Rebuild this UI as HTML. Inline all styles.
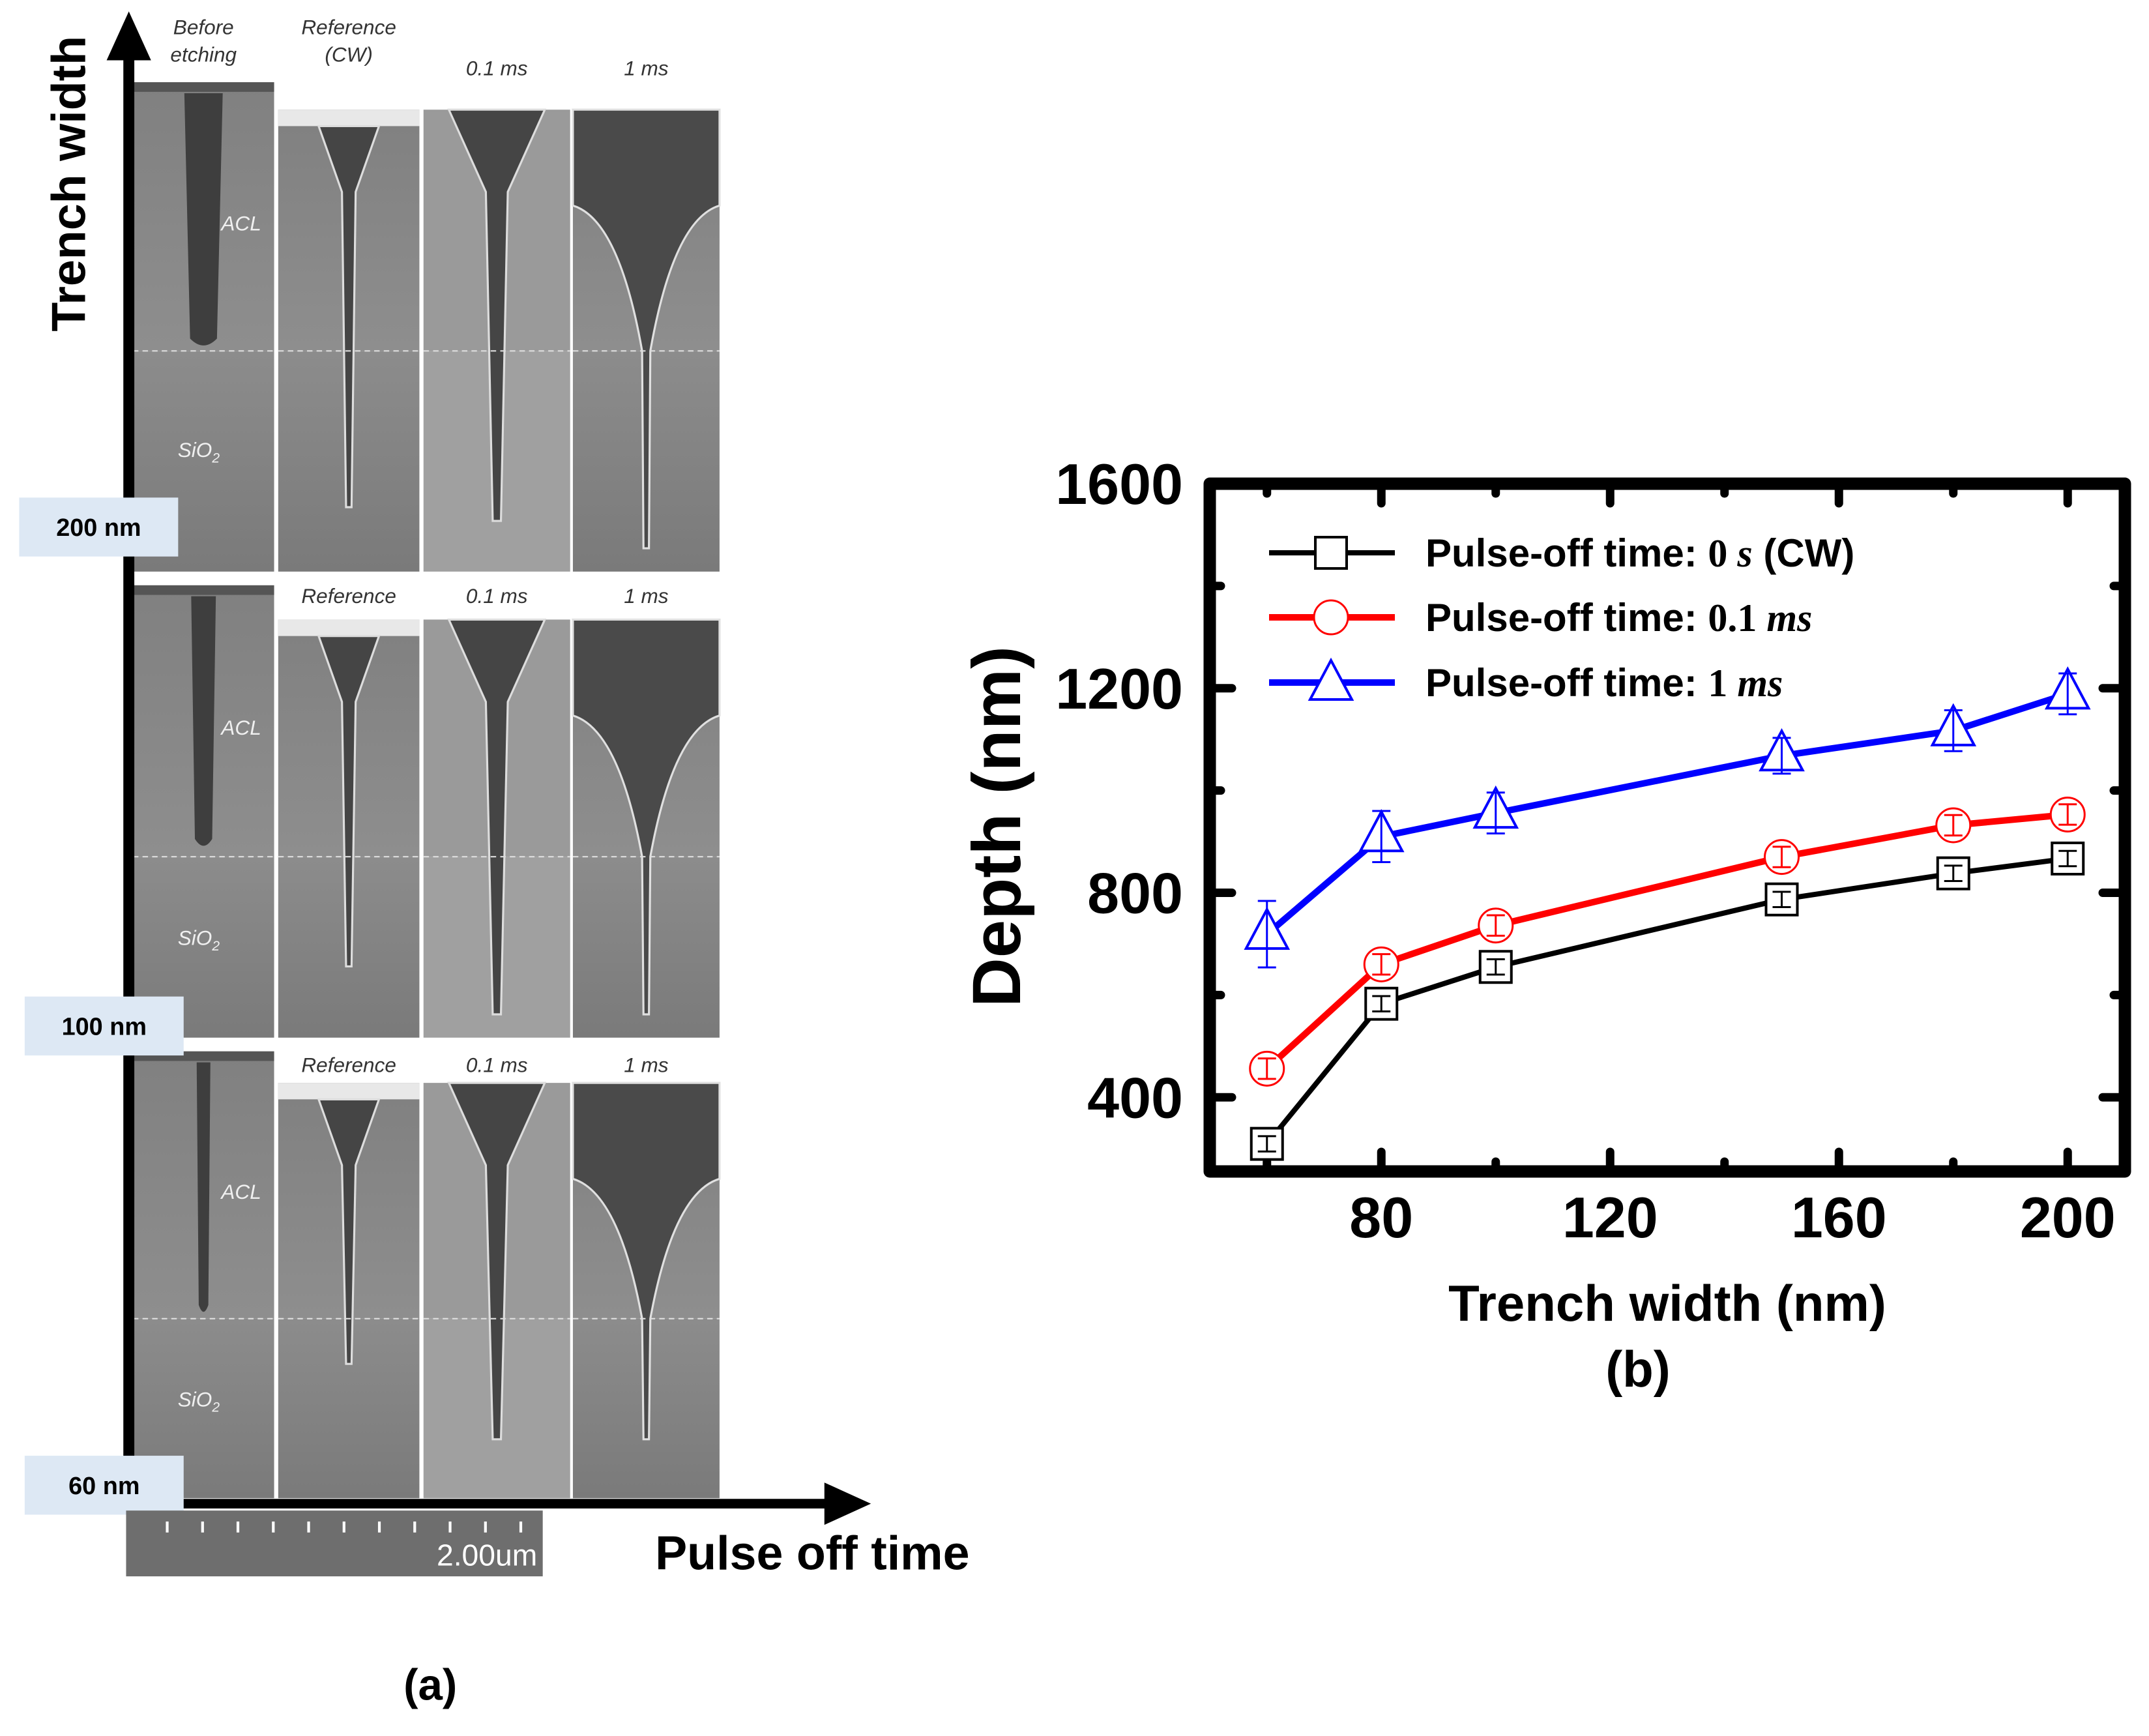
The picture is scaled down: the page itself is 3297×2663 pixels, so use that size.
<!DOCTYPE html>
<html><head><meta charset="utf-8"><style>
html,body{margin:0;padding:0;background:#fff;}
svg{display:block;}
text{font-family:"Liberation Sans",sans-serif;}
</style></head><body>
<svg id="root" width="3297" height="2663" viewBox="0 0 3297 2663" xmlns="http://www.w3.org/2000/svg">
<defs>
<linearGradient id="gOx" x1="0" y1="0" x2="0" y2="1"><stop offset="0" stop-color="#8c8c8c"/><stop offset="1" stop-color="#7a7a7a"/></linearGradient>
<linearGradient id="gAcl" x1="0" y1="0" x2="0" y2="1"><stop offset="0" stop-color="#808080"/><stop offset="1" stop-color="#8e8e8e"/></linearGradient>
</defs>
<g id="panelA" transform="scale(2.1027)"></g>
<g id="chart"></g>
</svg>
<script>
// ---------- Chart data ----------
const widths = [60, 80, 100, 150, 180, 200];
const depthCW = [309, 583, 655, 787, 838, 867];
const depth01 = [456, 660, 736, 870, 932, 953];
const depth1 = [719, 910, 956, 1068, 1117, 1189];
const errCW = [15, 15, 15, 15, 15, 15];
const err01 = [20, 20, 20, 20, 20, 20];
const err1 = [65, 50, 40, 35, 40, 40];
const xTickLabels = [80, 120, 160, 200];
const yTickLabels = [400, 800, 1200, 1600];
const legendLabels = ["Pulse-off time: ", "Pulse-off time: ", "Pulse-off time: "];

const NS = "http://www.w3.org/2000/svg";
function mk(parent, tag, attrs, txt) {
  const e = document.createElementNS(NS, tag);
  for (const k in attrs) e.setAttribute(k, attrs[k]);
  if (txt !== undefined) e.textContent = txt;
  parent.appendChild(e);
  return e;
}
const X0 = 1856, X1 = 3260, Y0 = 1797, Y1 = 742;
const xMin = 50, xMax = 210, yMin = 255, yMax = 1600;
function xs(v) { return X0 + (v - xMin) * (X1 - X0) / (xMax - xMin); }
function ys(v) { return Y0 - (v - yMin) * (Y0 - Y1) / (yMax - yMin); }

const ch = document.getElementById('chart');
for (let v = 60; v <= 200; v += 20) {
  const major = (v - 80) % 40 === 0;
  const L = major ? 30 : 15;
  let t = mk(ch, 'line', {x1: xs(v), x2: xs(v), y1: Y0, y2: Y0 - L, stroke: '#000', 'stroke-width': 13, 'stroke-linecap': 'round'});
  
  
  t = mk(ch, 'line', {x1: xs(v), x2: xs(v), y1: Y1, y2: Y1 + L, stroke: '#000', 'stroke-width': 13, 'stroke-linecap': 'round'});
  
  
}
for (let v = 400; v <= 1600; v += 200) {
  const major = v % 400 === 0;
  const L = major ? 34 : 17;
  let t = mk(ch, 'line', {x1: X0, x2: X0 + L, y1: ys(v), y2: ys(v), stroke: '#000', 'stroke-width': 13, 'stroke-linecap': 'round'});
  
  
  t = mk(ch, 'line', {x1: X1, x2: X1 - L, y1: ys(v), y2: ys(v), stroke: '#000', 'stroke-width': 13, 'stroke-linecap': 'round'});
  
  
}
const frame = mk(ch, 'rect', {x: X0, y: Y1, width: X1 - X0, height: Y0 - Y1, fill: 'none', stroke: '#000', 'stroke-width': 19, 'stroke-linejoin': 'round'});



xTickLabels.forEach(v => {
  const t = mk(ch, 'text', {x: xs(v), y: 1898, 'text-anchor': 'middle', 'font-size': 88, 'font-weight': 'bold'}, String(v));
  
  
});
yTickLabels.forEach(v => {
  const t = mk(ch, 'text', {x: 1815, y: ys(v) + 31, 'text-anchor': 'end', 'font-size': 88, 'font-weight': 'bold'}, String(v));
  
  
});
let at = mk(ch, 'text', {x: 1565, y: 1268, transform: 'rotate(-90 1565 1268)', 'text-anchor': 'middle', 'font-size': 105, 'font-weight': 'bold'}, 'Depth (nm)');


at = mk(ch, 'text', {x: 2558, y: 2026, 'text-anchor': 'middle', 'font-size': 78, 'font-weight': 'bold'}, 'Trench width (nm)');


at = mk(ch, 'text', {x: 2513, y: 2127, 'text-anchor': 'middle', 'font-size': 78, 'font-weight': 'bold'}, '(b)');



function marker(g, shape, cx, cy, color) {
  let m;
  if (shape === 'square') m = mk(g, 'rect', {x: cx - 24, y: cy - 24, width: 48, height: 48, fill: '#fff', stroke: color, 'stroke-width': 4});
  else if (shape === 'circle') m = mk(g, 'circle', {cx: cx, cy: cy, r: 26, fill: '#fff', stroke: color, 'stroke-width': 3});
  else m = mk(g, 'polygon', {points: `${cx},${cy - 38} ${cx - 32},${cy + 22} ${cx + 32},${cy + 22}`, fill: '#fff', stroke: color, 'stroke-width': 4});
  return m;
}
const series = [
  {name: 'series-cw', vals: depthCW, err: errCW, color: '#000', shape: 'square', lw: 8},
  {name: 'series-0-1ms', vals: depth01, err: err01, color: '#ff0000', shape: 'circle', lw: 10},
  {name: 'series-1ms', vals: depth1, err: err1, color: '#0000ff', shape: 'triangle', lw: 10}
];
series.forEach(s => {
  const g = mk(ch, 'g', {});
  
  
  const pts = widths.map((w, i) => xs(w) + ',' + ys(s.vals[i])).join(' ');
  const pl = mk(g, 'polyline', {points: pts, fill: 'none', stroke: s.color, 'stroke-width': s.lw, 'stroke-linejoin': 'round'});
  
  
  widths.forEach((w, i) => {
    const cx = xs(w), cy = ys(s.vals[i]);
    const m = marker(g, s.shape, cx, cy, s.color);
    
    
    const yt = ys(s.vals[i] + s.err[i]), yb = ys(s.vals[i] - s.err[i]);
    const eb = mk(g, 'path', {d: `M${cx},${yt}V${yb}M${cx - 14},${yt}H${cx + 14}M${cx - 14},${yb}H${cx + 14}`, stroke: s.color, 'stroke-width': 3, fill: 'none'});
    
    
  });
});
const legY = [848, 947, 1047];
const legSuffix = [['0 ', 's', ' (CW)'], ['0.1 ', 'ms', ''], ['1 ', 'ms', '']];
series.forEach((s, i) => {
  const g = mk(ch, 'g', {});
  
  
  mk(g, 'line', {x1: 1947, x2: 2140, y1: legY[i], y2: legY[i], stroke: s.color, 'stroke-width': s.lw});
  marker(g, s.shape, 2042, legY[i] + (s.shape === 'triangle' ? 4 : 0), s.color);
  const t = mk(g, 'text', {x: 2187, y: legY[i] + 21, 'font-size': 60, 'font-weight': 'bold'});
  mk(t, 'tspan', {}, legendLabels[i]);
  mk(t, 'tspan', {'font-family': 'Liberation Serif, serif', 'font-weight': 'bold'}, legSuffix[i][0]);
  mk(t, 'tspan', {'font-family': 'Liberation Serif, serif', 'font-style': 'italic', 'font-weight': 'bold'}, legSuffix[i][1]);
  if (legSuffix[i][2]) mk(t, 'tspan', {}, legSuffix[i][2]);
});

// ---------- Panel (a) ----------
const pa = document.getElementById('panelA');
const cols = [[97, 200], [203, 306], [309, 416], [418, 525]];
const rows = [
  {top1: 60, top: 80, bot: 417, dash: 256, tb: [255, 370, 380, 400], hdr: [['Before', 'etching'], ['Reference', '(CW)'], ['0.1 ms'], ['1 ms']], hy: 25},
  {top1: 427, top: 452, bot: 757, dash: 625, tb: [620, 705, 740, 740], hdr: [[''], ['Reference'], ['0.1 ms'], ['1 ms']], hy: 440},
  {top1: 767, top: 790, bot: 1093, dash: 962, tb: [960, 995, 1050, 1050], hdr: [[''], ['Reference'], ['0.1 ms'], ['1 ms']], hy: 782}
];
rows.forEach((r, ri) => {
  cols.forEach((c, ci) => {
    const g = mk(pa, 'g', {});
    
    
    const top = ci === 0 ? r.top1 : r.top;
    const cx = (c[0] + c[1]) / 2;
    mk(g, 'rect', {x: c[0], y: top, width: c[1] - c[0], height: r.dash - top, fill: ci === 2 ? '#9a9a9a' : 'url(#gAcl)'});
    mk(g, 'rect', {x: c[0], y: r.dash, width: c[1] - c[0], height: r.bot - r.dash, fill: ci === 2 ? '#a0a0a0' : 'url(#gOx)'});
    if (ci === 0) {
      mk(g, 'rect', {x: c[0], y: top, width: c[1] - c[0], height: 7, fill: '#555'});
      const w = ri === 0 ? 14 : ri === 1 ? 9 : 5;
      mk(g, 'path', {d: `M${cx - w},${top + 8} L${cx + w},${top + 8} L${cx + w * 0.7},${r.tb[0] - 8} Q${cx},${r.tb[0] + 2} ${cx - w * 0.7},${r.tb[0] - 8} Z`, fill: '#3e3e3e'});
    } else if (ci === 1) {
      mk(g, 'rect', {x: c[0], y: top, width: c[1] - c[0], height: 12, fill: '#e8e8e8'});
      mk(g, 'path', {d: `M${cx - 22},${top + 12} L${cx + 22},${top + 12} L${cx + 5},${top + 60} L${cx + 2},${r.tb[1]} L${cx - 2},${r.tb[1]} L${cx - 5},${top + 60} Z`, fill: '#454545', stroke: '#ddd', 'stroke-width': 1.5});
    } else if (ci === 2) {
      mk(g, 'path', {d: `M${cx - 35},${top} L${cx + 35},${top} L${cx + 8},${top + 60} L${cx + 3},${r.tb[2]} L${cx - 3},${r.tb[2]} L${cx - 8},${top + 60} Z`, fill: '#454545', stroke: '#ddd', 'stroke-width': 1.5});
    } else {
      mk(g, 'path', {d: `M${c[0]},${top} L${c[1]},${top} L${c[1]},${top + 70} Q${cx + 20},${top + 80} ${cx + 3},${r.dash} L${cx + 2},${r.tb[3]} L${cx - 2},${r.tb[3]} L${cx - 3},${r.dash} Q${cx - 20},${top + 80} ${c[0]},${top + 70} Z`, fill: '#4a4a4a', stroke: '#e0e0e0', 'stroke-width': 1.5});
    }
    mk(g, 'line', {x1: c[0], x2: c[1], y1: r.dash, y2: r.dash, stroke: '#ddd', 'stroke-width': 1, 'stroke-dasharray': '4 3'});
    if (ci === 0) {
      mk(g, 'text', {x: 176, y: (r.top1 + r.dash) / 2 + 10, 'text-anchor': 'middle', fill: '#f0f0f0', 'font-size': 15, 'font-style': 'italic'}, 'ACL');
      const st = mk(g, 'text', {x: 145, y: r.dash + (r.bot - r.dash) * 0.45 + 5, 'text-anchor': 'middle', fill: '#f0f0f0', 'font-size': 15, 'font-style': 'italic'}, 'SiO');
      mk(st, 'tspan', {'font-size': 10, dy: 4}, '2');
    }
    r.hdr[ci].forEach((h, hi) => {
      if (!h) return;
      const t = mk(pa, 'text', {x: cx, y: r.hy + hi * 20 + (ri === 0 && r.hdr[ci].length === 1 ? 30 : 0), 'text-anchor': 'middle', 'font-size': 15, 'font-style': 'italic', fill: '#333'}, h);
      
      
    });
  });
});
let ax = mk(pa, 'path', {d: 'M94,1097 V40 M84,40 L94,18 L104,40 Z', stroke: '#000', 'stroke-width': 8, fill: '#000'});


ax = mk(pa, 'path', {d: 'M94,1097 H605 M605,1087 L627,1097 L605,1107 Z', stroke: '#000', 'stroke-width': 7, fill: '#000'});


[['200 nm', 14, 363], ['100 nm', 18, 727], ['60 nm', 18, 1062]].forEach(b => {
  const g = mk(pa, 'g', {});
  
  
  mk(g, 'rect', {x: b[1], y: b[2], width: 116, height: 43, fill: '#dde8f4'});
  mk(g, 'text', {x: b[1] + 58, y: b[2] + 28, 'text-anchor': 'middle', 'font-size': 18, 'font-weight': 'bold'}, b[0]);
});
ax = mk(pa, 'text', {x: 62, y: 134, transform: 'rotate(-90 62 134)', 'text-anchor': 'middle', 'font-size': 35, 'font-weight': 'bold'}, 'Trench width');


ax = mk(pa, 'text', {x: 478, y: 1145, 'font-size': 35, 'font-weight': 'bold'}, 'Pulse off time');


const sb = mk(pa, 'g', {});


mk(sb, 'rect', {x: 92, y: 1102, width: 304, height: 48, fill: '#6e6e6e'});
for (let i = 0; i < 11; i++) mk(sb, 'line', {x1: 122 + i * 25.8, x2: 122 + i * 25.8, y1: 1110, y2: 1118, stroke: '#fff', 'stroke-width': 2});
mk(sb, 'text', {x: 392, y: 1142, 'text-anchor': 'end', 'font-size': 22, fill: '#fff'}, '2.00um');
ax = mk(pa, 'text', {x: 314, y: 1240, 'text-anchor': 'middle', 'font-size': 32, 'font-weight': 'bold'}, '(a)');


</script>
</body></html>
